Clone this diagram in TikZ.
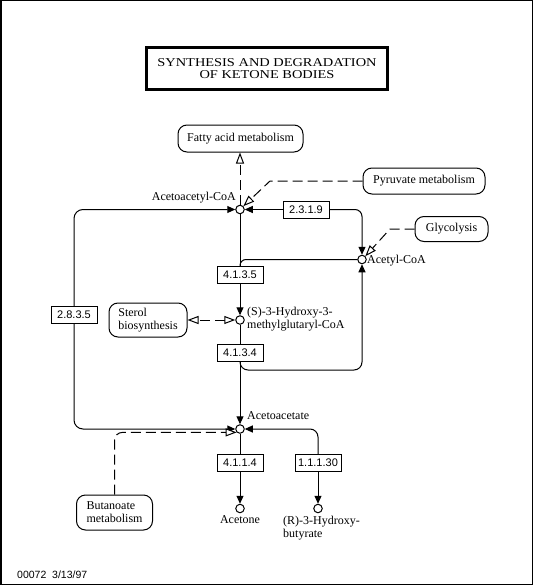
\documentclass[tikz,border=0pt]{standalone}
\usepackage{fontspec}
\setmainfont{Liberation Serif}
\newfontfamily\ecfont{Liberation Sans}
\newfontfamily\titlefont[FakeStretch=1.2]{Liberation Serif}
\usetikzlibrary{arrows.meta}
\tikzset{
  fa/.tip={Triangle[length=8pt,width=7pt]},
  oa/.tip={Triangle[open,length=11pt,width=8pt,fill=white]},
  cpd/.style={circle,draw,line width=1pt,fill=white,inner sep=0pt,minimum size=8.5pt},
  ecbox/.style={draw,line width=1pt,fill=white,minimum width=46pt,minimum height=17pt,inner sep=1pt,font=\ecfont\fontsize{11}{12}\selectfont},
  mapbox/.style={draw,line width=1pt,rounded corners=9pt,inner sep=2pt,font=\fontsize{12}{13}\selectfont},
  lbl/.style={inner sep=0pt,font=\fontsize{12}{13}\selectfont},
  rx/.style={line width=1pt},
  dlink/.style={line width=1pt,dash pattern=on 10pt off 5pt},
}
\begin{document}
\begin{tikzpicture}[x=1pt,y=-1pt]
\useasboundingbox (0,0) rectangle (536,586);
\draw[line width=1.5pt] (0.75,0.75) rectangle (532.5,584.3);
% title
\node[draw,line width=2.5pt,minimum width=241pt,minimum height=42pt,align=center,inner sep=0pt,
  font=\titlefont\fontsize{12}{12.5}\selectfont] (title) at (267,68.5) {SYNTHESIS AND DEGRADATION\\OF KETONE BODIES};
% compounds
\node[cpd] (aacoa) at (240,209.5) {};
\node[cpd] (acoa) at (362,259.5) {};
\node[cpd] (hmg) at (240,320) {};
\node[cpd] (aa) at (240,429) {};
\node[cpd] (acetone) at (240,508.5) {};
\node[cpd] (hb) at (318,508.5) {};
% compound labels
\node[lbl,anchor=base east] (laacoa) at (236,200) {Acetoacetyl-CoA};
\node[lbl,anchor=base west] (lacoa) at (367,263.5) {Acetyl-CoA};
\node[lbl,anchor=base west,align=left] (lhmg) at (247,328) {(S)-3-Hydroxy-3-\\methylglutaryl-CoA};
\node[lbl,anchor=base west] (laa) at (247,419) {Acetoacetate};
\node[lbl,anchor=base] (lacetone) at (240,523) {Acetone};
\node[lbl,anchor=base west,align=left] (lhb) at (283,537) {(R)-3-Hydroxy-\\butyrate};
% enzymes
\node[ecbox] (e2319) at (306,209.5) {2.3.1.9};
\node[ecbox] (e4135) at (240,275) {4.1.3.5};
\node[ecbox] (e4134) at (240,353) {4.1.3.4};
\node[ecbox] (e2835) at (74,315) {2.8.3.5};
\node[ecbox] (e4114) at (240,463) {4.1.1.4};
\node[ecbox] (e11130) at (318,463) {1.1.1.30};
% maps
\node[mapbox,minimum width=125pt,minimum height=27pt] (fatty) at (240.5,138.5) {Fatty acid metabolism};
\node[mapbox,minimum width=122pt,minimum height=26pt] (pyr) at (424,181) {Pyruvate metabolism};
\node[mapbox,minimum width=73pt,minimum height=25pt] (gly) at (451.5,229) {Glycolysis};
\node[mapbox,minimum width=78pt,minimum height=34pt,align=left] (sterol) at (148,320) {Sterol\\biosynthesis};
\node[mapbox,minimum width=76pt,minimum height=35pt,align=left] (but) at (114.5,512.5) {Butanoate\\metabolism};
% reactions
\draw[rx,-fa] (e2319.west) -- (aacoa.east);
\draw[rx,-fa,rounded corners=7pt] (e2319.east) -- (acoa.north |- e2319.east) -- (acoa.north);
\draw[rx,fa-,rounded corners=9pt] (aacoa.west) -- (e2835.north |- aacoa.west) -- (e2835.north);
\draw[rx,-fa,rounded corners=9pt] (e2835.south) -- (e2835.south |- aa.west) -- (aa.west);
\draw[rx] (aacoa.south) -- (e4135.north);
\draw[rx,rounded corners=6pt] (acoa.west) -- (e4135.north |- acoa.west) -- (e4135.north);
\draw[rx,-fa] (e4135.south) -- (hmg.north);
\draw[rx] (hmg.south) -- (e4134.north);
\draw[rx,-fa] (e4134.south) -- (aa.north);
\draw[rx,-fa,rounded corners=8pt] (e4134.south) -- (240,370) -- (acoa.south |- 0,370) -- (acoa.south);
\draw[rx] (aa.south) -- (e4114.north);
\draw[rx,-fa] (e4114.south) -- (acetone.north);
\draw[rx,-fa,rounded corners=8pt] (e11130.north) |- (aa.east);
\draw[rx,-fa] (e11130.south) -- (hb.north);
% map links
\draw[dlink,-oa] (aacoa.north) -- (aacoa.north |- fatty.south);
\coordinate (pk) at (270,181);
\draw[dlink,-oa] (pyr.west) -- (pk) -- (aacoa.north east);
\coordinate (gk) at (390,229);
\draw[dlink,-oa] (gly.west) -- (gk) -- (acoa.north east);
\draw[dlink,oa-oa] (hmg.west) -- (sterol.east);
\draw[dlink,-oa,rounded corners=8pt] (but.north) |- (aa.south west);
% footer
\node[inner sep=0pt,anchor=base west,font=\ecfont\fontsize{10.5}{11}\selectfont] (foot) at (17,578) {00072\ \ 3/13/97};
\end{tikzpicture}
\end{document}
